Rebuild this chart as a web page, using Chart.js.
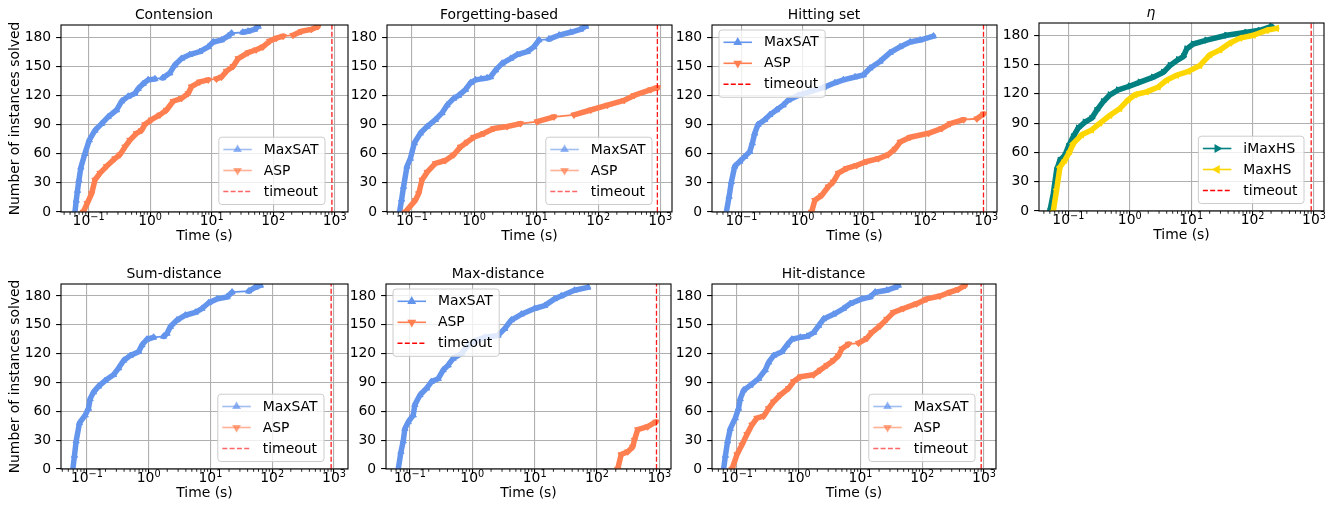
<!DOCTYPE html>
<html>
<head>
<meta charset="utf-8">
<script src="https://cdn.jsdelivr.net/npm/chart.js@4.4.1/dist/chart.umd.min.js"></script>
<style>
  body { margin: 0; background: #fff; }
  #fig { position: relative; width: 1343px; height: 512px; overflow: hidden; }
  #fig canvas { position: absolute; }
</style>
</head>
<body>
<div id="fig"></div>
<script>
// ---- data: solve times (s) and cumulative solved counts ----
const TIMEOUT = 900;
const Y_MAX = 192.5;
const yTicks = [0, 30, 60, 90, 120, 150, 180];
const xTicks = [0.1, 1, 10, 100, 1000];
const xTickExp = ['\u22121', '0', '1', '2', '3'];

const contensionMaxsatT = [0.060, 0.063, 0.066, 0.0697, 0.075, 0.087, 0.1026, 0.127, 0.163, 0.208, 0.285, 0.344, 0.44, 0.565, 0.64, 0.77, 0.93, 1.2, 1.6, 2.09, 2.5, 3.24, 4.4, 6.4, 8.8, 10.6, 14.4, 18.5, 21, 32, 39, 50, 57];
const contensionMaxsatN = [0, 12, 22, 33, 46, 60, 74, 84, 91, 98, 105, 114, 119, 122, 127, 132, 136, 137, 138, 143, 151, 158, 162, 165, 170, 175, 177, 181, 184, 185, 186, 188, 191];
const contensionAspT = [0.082, 0.095, 0.112, 0.127, 0.153, 0.196, 0.268, 0.323, 0.39, 0.469, 0.60, 0.726, 0.82, 1.05, 1.44, 1.85, 2.37, 3.24, 4.15, 4.7, 6.4, 8.8, 12, 14.5, 17.4, 22.4, 27, 39, 53, 68, 88, 113, 145, 210, 287, 418, 535];
const contensionAspN = [0, 9, 19, 33, 40, 47, 55, 59, 67, 74, 81, 84, 90, 95, 100, 105, 114, 117, 122, 129, 134, 136, 137, 139, 145, 150, 158, 164, 167, 170, 176, 179, 181, 182, 186, 188, 191];

const forgettingMaxsatT = [0.063, 0.068, 0.073, 0.083, 0.094, 0.109, 0.136, 0.175, 0.238, 0.305, 0.367, 0.471, 0.567, 0.727, 0.875, 1.06, 1.3, 1.62, 1.84, 2.22, 2.84, 3.88, 4.96, 7.2, 9.2, 11.1, 16.1, 23.4, 36, 52, 63];
const forgettingMaxsatN = [0, 13, 26, 47, 55, 71, 81, 88, 95, 102, 110, 117, 120, 126, 133, 136, 137, 138, 139, 146, 153, 158, 162, 165, 170, 177, 178, 182, 185, 188, 191];
const forgettingAspT = [0.078, 0.113, 0.128, 0.145, 0.175, 0.238, 0.345, 0.471, 0.604, 0.773, 0.99, 1.44, 2.08, 3.42, 5.6, 10.4, 19.4, 40.8, 76, 141, 263, 380, 707, 905];
const forgettingAspN = [0, 12, 19, 33, 41, 50, 53, 59, 67, 72, 77, 81, 86, 88, 91, 93, 98, 100, 105, 110, 115, 120, 126, 128];

const hittingMaxsatT = [0.0568, 0.063, 0.0686, 0.0778, 0.094, 0.113, 0.137, 0.151, 0.165, 0.187, 0.241, 0.291, 0.374, 0.481, 0.58, 0.847, 1.32, 2.17, 3.37, 4.62, 7.2, 9.8, 12.6, 18.4, 26.8, 39, 57, 83, 137];
const hittingMaxsatN = [0, 16, 31, 47, 52, 57, 62, 71, 81, 90, 95, 100, 105, 110, 115, 120, 124, 128, 133, 136, 139, 141, 148, 155, 164, 170, 175, 177, 181];
const hittingAspT = [1.40, 1.585, 2.04, 2.62, 3.17, 3.83, 5.24, 7.63, 11.1, 17.3, 25, 32.4, 39.1, 57, 114, 188, 257, 426, 703, 904];
const hittingAspN = [0, 12, 17, 26, 31, 40, 45, 48, 52, 55, 59, 65, 72, 77, 81, 86, 91, 95, 96, 101];

const etaImaxhsT = [0.050, 0.057, 0.0646, 0.073, 0.088, 0.1, 0.12, 0.145, 0.187, 0.24, 0.289, 0.37, 0.477, 0.652, 1.01, 1.47, 2.42, 3.52, 4.52, 6.18, 7.45, 8.45, 10.8, 17.9, 37.8, 80, 132, 204];
const etaImaxhsN = [0, 18, 42, 52, 57, 66, 76, 85, 91, 95, 103, 112, 119, 124, 128, 132, 137, 142, 149, 155, 158, 166, 171, 175, 180, 183, 185, 189];
const etaMaxhsT = [0.057, 0.0646, 0.073, 0.088, 0.106, 0.12, 0.165, 0.24, 0.328, 0.477, 0.693, 0.948, 1.22, 1.88, 2.92, 3.99, 5.8, 9.0, 13.9, 20.3, 29.5, 42.9, 62.4, 103, 169, 247];
const etaMaxhsN = [0, 22, 45, 52, 61, 69, 78, 83, 90, 98, 105, 114, 119, 122, 127, 134, 139, 143, 149, 160, 165, 172, 177, 180, 185, 187];

const sumMaxsatT = [0.0593, 0.063, 0.067, 0.076, 0.094, 0.106, 0.113, 0.128, 0.154, 0.198, 0.27, 0.326, 0.394, 0.505, 0.689, 0.78, 0.94, 1.2, 1.75, 1.98, 2.24, 2.88, 3.93, 5.7, 7.3, 9.4, 12.8, 18.6, 22.4, 41.7, 53, 64.5];
const sumMaxsatN = [0, 14, 29, 48, 56, 63, 73, 80, 86, 92, 98, 105, 113, 118, 122, 129, 135, 137, 138, 141, 148, 155, 160, 163, 167, 173, 177, 179, 184, 185, 189, 191];
const sumAspT = [];
const sumAspN = [];

const maxMaxsatT = [0.065, 0.0718, 0.078, 0.083, 0.094, 0.113, 0.12, 0.145, 0.185, 0.222, 0.284, 0.341, 0.41, 0.493, 0.671, 0.858, 1.1, 1.58, 2.59, 3.31, 4.23, 6.12, 10, 14.5, 20.9, 26.7, 43.6, 71.3];
const maxMaxsatN = [0, 18, 29, 42, 49, 56, 67, 77, 84, 91, 94, 103, 108, 115, 120, 129, 133, 137, 139, 146, 155, 161, 167, 170, 177, 180, 186, 189];
const maxAspT = [215, 244, 311, 374, 398, 450, 650, 880];
const maxAspN = [0, 15, 18, 23, 30, 41, 44, 49];

const hitMaxsatT = [0.0608, 0.065, 0.0706, 0.078, 0.094, 0.106, 0.113, 0.128, 0.164, 0.224, 0.287, 0.325, 0.392, 0.535, 0.644, 0.776, 1.06, 1.36, 1.74, 2.09, 2.52, 3.66, 5.31, 6.8, 10.5, 14.3, 17.3, 26.7, 36.4, 41];
const hitMaxsatN = [0, 14, 29, 42, 53, 63, 73, 82, 87, 94, 103, 111, 118, 122, 129, 135, 137, 138, 142, 149, 156, 161, 167, 172, 177, 179, 184, 186, 189, 191];
const hitAspT = [0.083, 0.1, 0.12, 0.145, 0.175, 0.21, 0.27, 0.325, 0.392, 0.502, 0.685, 0.825, 1.06, 1.74, 2.23, 2.86, 3.66, 4.41, 4.99, 6.4, 9.3, 12.7, 15.2, 20.8, 26.7, 34.2, 49.6, 81, 118, 194, 282, 384, 493];
const hitAspN = [0, 15, 25, 36, 46, 53, 55, 63, 70, 77, 84, 91, 96, 98, 103, 108, 113, 118, 125, 130, 131, 136, 142, 149, 156, 163, 167, 172, 177, 180, 184, 187, 191];

// ---- styling ----
const FONT = 13.9;
const FAMILY = '"DejaVu Sans", sans-serif';
const solverStyle = {
  MaxSAT: { rgb: '100,149,237', rot: 0 },
  ASP:    { rgb: '255,127,80',  rot: 180 },
  iMaxHS: { rgb: '0,128,128',   rot: 90 },
  MaxHS:  { rgb: '255,215,0',   rot: 270 }
};

const panels = [
  { title: 'Contension', rect: [61, 25, 348, 212], xr: [0.0356, 1644], yTitle: true, alpha: 0.6, legend: { where: 'lower right', dx: 23 },
    series: [['MaxSAT', contensionMaxsatT, contensionMaxsatN], ['ASP', contensionAspT, contensionAspN]] },
  { title: 'Forgetting-based', rect: [387, 25, 672, 212], xr: [0.0395, 1549], alpha: 0.6, legend: { where: 'lower right', dx: 20 },
    series: [['MaxSAT', forgettingMaxsatT, forgettingMaxsatN], ['ASP', forgettingAspT, forgettingAspN]] },
  { title: 'Hitting set', rect: [712, 25, 997, 212], xr: [0.0331, 1496], alpha: 1, legend: { where: 'upper left' },
    series: [['MaxSAT', hittingMaxsatT, hittingMaxsatN], ['ASP', hittingAspT, hittingAspN]] },
  { title: 'η', italic: true, rect: [1039, 23, 1324, 211], xr: [0.0333, 1455], alpha: 1, legend: { where: 'lower right', dx: 20 },
    series: [['iMaxHS', etaImaxhsT, etaImaxhsN], ['MaxHS', etaMaxhsT, etaMaxhsN]] },
  { title: 'Sum-distance', rect: [61, 284, 348, 469], xr: [0.0381, 1687], yTitle: true, alpha: 0.6, legend: { where: 'lower right', dx: 24 },
    series: [['MaxSAT', sumMaxsatT, sumMaxsatN], ['ASP', sumAspT, sumAspN]] },
  { title: 'Max-distance', rect: [386, 284, 671, 469], xr: [0.0413, 1538], alpha: 1, legend: { where: 'upper left' },
    series: [['MaxSAT', maxMaxsatT, maxMaxsatN], ['ASP', maxAspT, maxAspN]] },
  { title: 'Hit-distance', rect: [712, 284, 996, 469], xr: [0.0394, 1563], alpha: 0.6, legend: { where: 'lower right', dx: 21 },
    series: [['MaxSAT', hitMaxsatT, hitMaxsatN], ['ASP', hitAspT, hitAspN]] }
];

// frame around the axes, minor ticks and 10^k labels of the log axis
const axesFrame = {
  id: 'axesFrame',
  afterDatasetsDraw(chart) {
    const { ctx, chartArea: a } = chart;
    const x = chart.scales.x;
    ctx.save();
    ctx.strokeStyle = '#000';
    ctx.lineWidth = 0.85;
    for (let k = -2; k <= 3; k++) {
      for (let m = 2; m <= 9; m++) {
        const v = m * Math.pow(10, k);
        if (v < x.min || v > x.max) continue;
        const px = x.getPixelForValue(v);
        ctx.beginPath();
        ctx.moveTo(px, a.bottom);
        ctx.lineTo(px, a.bottom + 2.8);
        ctx.stroke();
      }
    }
    ctx.lineWidth = 1.1;
    ctx.strokeRect(a.left, a.top, a.right - a.left, a.bottom - a.top);

    // tick labels as 10 with a raised exponent
    ctx.fillStyle = '#000';
    ctx.textBaseline = 'alphabetic';
    ctx.textAlign = 'left';
    const big = FONT + 'px ' + FAMILY, small = (FONT * 0.7).toFixed(2) + 'px ' + FAMILY;
    xTicks.forEach((v, i) => {
      const px = x.getPixelForValue(v);
      ctx.font = big;
      const wb = ctx.measureText('10').width;
      ctx.font = small;
      const we = ctx.measureText(xTickExp[i]).width;
      const x0 = px - (wb + we) / 2;
      const base = a.bottom + 13.2;
      ctx.font = big;
      ctx.fillText('10', x0, base);
      ctx.font = small;
      ctx.fillText(xTickExp[i], x0 + wb, base - 5.6);
    });
    ctx.restore();
  }
};

// matplotlib-like boxed legend inside the axes
const boxLegend = {
  id: 'boxLegend',
  afterDraw(chart, args, opts) {
    const { ctx, chartArea: a } = chart;
    const sets = chart.data.datasets.slice().sort((p, q) => p.legendIndex - q.legendIndex);
    ctx.save();
    ctx.font = FONT + 'px ' + FAMILY;
    const tw = Math.max(...sets.map(d => ctx.measureText(d.label).width));
    const rowH = 21;
    const w = 45 + tw + 6.5;
    const h = 12.3 + rowH * (sets.length - 1) + 13;
    let x0, y0;
    if (opts.where === 'upper left') {
      x0 = a.left + 7; y0 = a.top + 5;
    } else {
      x0 = a.right - opts.dx - w; y0 = a.bottom - 7.5 - h;
    }
    ctx.beginPath();
    ctx.roundRect(x0, y0, w, h, 3);
    ctx.fillStyle = 'rgba(255,255,255,0.8)';
    ctx.fill();
    ctx.strokeStyle = '#cccccc';
    ctx.lineWidth = 1;
    ctx.stroke();
    sets.forEach((d, i) => {
      const cy = y0 + 12.3 + i * rowH;
      ctx.beginPath();
      ctx.setLineDash(d.borderDash || []);
      ctx.strokeStyle = d.legendColor;
      ctx.lineWidth = d.legendWidth;
      ctx.moveTo(x0 + 4.5, cy);
      ctx.lineTo(x0 + 33, cy);
      ctx.stroke();
      ctx.setLineDash([]);
      if (d.pointRadius > 0) {
        ctx.fillStyle = d.legendColor;
        ctx.strokeStyle = d.legendColor;
        Chart.helpers.drawPoint(ctx, { pointStyle: 'triangle', radius: 3.6, rotation: d.pointRotation, borderWidth: 1 }, x0 + 18.75, cy);
      }
      ctx.fillStyle = '#000';
      ctx.textBaseline = 'middle';
      ctx.textAlign = 'left';
      ctx.fillText(d.label, x0 + 45, cy + 0.5);
    });
    ctx.restore();
  }
};

// dense stretches of a cactus curve look like a thick band of markers,
// sparse stretches like a thin line
function bandWidth(ctx) {
  const dn = ctx.p1.parsed.y - ctx.p0.parsed.y;
  const len = Math.hypot(ctx.p1.x - ctx.p0.x, ctx.p1.y - ctx.p0.y);
  return dn > 0 && len / dn < 7 ? 5.5 : 1.8;
}

Chart.defaults.font.family = FAMILY;
Chart.defaults.font.size = FONT;
Chart.defaults.color = '#000';

const YW = 61, XH = 36, TOPH = 21, RP = 8;
const fig = document.getElementById('fig');

panels.forEach(p => {
  const [L, T, R, B] = p.rect;
  const cv = document.createElement('canvas');
  const W = R - L + YW + RP, H = TOPH + B - T + XH;
  cv.width = W; cv.height = H;
  cv.style.left = (L - YW) + 'px';
  cv.style.top = (T - TOPH) + 'px';
  cv.style.width = W + 'px';
  cv.style.height = H + 'px';
  fig.appendChild(cv);

  const n = p.series.length;
  const datasets = p.series.map(([name, ts, ns], i) => {
    const rgb = solverStyle[name].rgb;
    return {
      label: name,
      data: ts.map((t, j) => ({ x: t, y: ns[j] })),
      borderColor: 'rgb(' + rgb + ')',
      backgroundColor: 'rgb(' + rgb + ')',
      legendColor: 'rgba(' + rgb + ',' + p.alpha + ')',
      borderWidth: 5.5,
      segment: { borderWidth: bandWidth },
      borderCapStyle: 'round',
      borderJoinStyle: 'round',
      legendWidth: 1.6,
      pointStyle: 'triangle',
      pointRotation: solverStyle[name].rot,
      pointRadius: 3.6,
      pointBorderWidth: 1,
      pointBackgroundColor: 'rgb(' + rgb + ')',
      pointBorderColor: 'rgb(' + rgb + ')',
      tension: 0,
      order: n - i,
      legendIndex: i
    };
  });
  datasets.push({
    label: 'timeout',
    data: [{ x: TIMEOUT, y: 0 }, { x: TIMEOUT, y: Y_MAX }],
    borderColor: 'rgba(255,0,0,0.9)',
    backgroundColor: 'red',
    legendColor: 'rgba(255,0,0,' + p.alpha + ')',
    borderWidth: 1.3,
    legendWidth: 1.4,
    borderDash: [5, 2.3],
    pointRadius: 0,
    order: 0,
    legendIndex: n,
    clip: false
  });

  new Chart(cv.getContext('2d'), {
    type: 'line',
    data: { datasets },
    options: {
      responsive: false,
      animation: false,
      events: [],
      layout: { padding: { top: 0.72, right: RP, left: 0, bottom: 0 } },
      scales: {
        x: {
          type: 'logarithmic',
          min: p.xr[0],
          max: p.xr[1],
          afterBuildTicks: s => { s.ticks = xTicks.map(v => ({ value: v })); },
          afterFit: s => { s.height = XH; },
          ticks: { display: false, autoSkip: false, maxRotation: 0 },
          grid: { color: '#b0b0b0', lineWidth: 1.1, tickColor: '#000', tickLength: 4.9, tickWidth: 1.1 },
          border: { display: false },
          title: { display: true, text: 'Time (s)', padding: { top: 0, bottom: 3.5 } }
        },
        y: {
          min: 0,
          max: Y_MAX,
          afterBuildTicks: s => { s.ticks = yTicks.map(v => ({ value: v })); },
          afterFit: s => { s.width = YW; },
          ticks: { padding: 4.9 },
          grid: { color: '#b0b0b0', lineWidth: 1.1, tickColor: '#000', tickLength: 4.9, tickWidth: 1.1 },
          border: { display: false },
          title: { display: !!p.yTitle, text: 'Number of instances solved', padding: { top: 6.7, bottom: 0 } }
        }
      },
      plugins: {
        legend: { display: false },
        tooltip: { enabled: false },
        title: {
          display: true,
          text: p.title,
          color: '#000',
          font: { size: FONT, weight: 'normal', style: p.italic ? 'italic' : 'normal' },
          padding: { top: 2, bottom: 1.6 }
        },
        boxLegend: p.legend
      }
    },
    plugins: [axesFrame, boxLegend]
  });
});
</script>
</body>
</html>
